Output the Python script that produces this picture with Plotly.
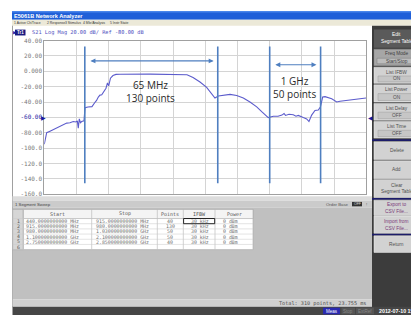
import plotly.graph_objects as go

# The page body keeps the browser's default 8px margin, so the figure is drawn
# 8px smaller and every pixel position below is measured in window pixels.
WIN_W, WIN_H = 419, 318
OFF = 8
FW, FH = WIN_W - OFF, WIN_H - OFF

# ---------------- data ----------------
point_index = [0, 2.3, 5.5, 8.7, 11.3, 13, 15.1, 18, 21.6, 24.7, 27.9, 30.5, 31.8, 32.7, 33.7,
               34.8, 36, 38.2, 39.2, 42, 45.9, 49, 50.3, 52, 53.6, 55.3, 56.5, 58.4, 59.4,
               60.8, 62, 63.7, 66.1, 69, 73, 101.8, 130.6, 137.4, 143.2, 149.9, 156.3, 161.2,
               164.3, 167.5, 172.3, 178.8, 185.2, 191.6, 198, 204.5, 209.3, 215.6, 220.5, 225,
               228.8, 230.8, 232.2, 235.6, 239.7, 242.3, 244.5, 247.1, 249.3, 252.6, 254.8,
               257.4, 260.6, 263.8, 265.9, 268, 270.3, 276.7, 281.5, 284.7, 297.5, 309.7]
s21_db = [-95, -80, -78, -76, -75, -73, -72, -70, -67.5, -67, -65.4, -66, -64.5, -74, -62,
          -67, -65.4, -64.5, -47.5, -46.5, -46, -40, -38, -33.5, -31, -30.5, -28, -25, -22,
          -15, -19, -9, -5.5, -4, -3.8, -3.6, -3.8, -4.5, -8, -14, -21, -29,
          -34.8, -32.2, -31.4, -30, -31.4, -34.8, -40, -46.3, -52.6, -60.3, -58.6, -58.5,
          -57, -55, -57.5, -56, -56.6, -58.5, -57.5, -59.5, -60.3, -62, -65.4,
          -57, -51, -50.5, -46.3, -33.5, -33, -35.7, -40, -39, -37.3, -34.8]

segment_marks = [39, 167, 217, 266]
mark_top_db = 32.4
mark_bottom_db = -146
span_start = [43, 221]
span_end = [163, 262]
span_level_db = [13.6, 8.5]
span_labels = ["65 MHz<br>130 points", "1 GHz<br>50 points"]
span_label_x = [102, 241]
span_label_db = [-26, -21.5]

y_ticks = [40, 20, 0, -20, -40, -60, -80, -100, -120, -140, -160]
y_tick_labels = ["40.00", "20.00", "0.000", "-20.00", "-40.00", "-60.00", "-80.00",
                 "-100.0", "-120.0", "-140.0", "-160.0"]
ref_level_db = -60

table_headers = ["Start", "Stop", "Points", "IFBW", "Power"]
seg_start = ["440.0000000000 MHz", "915.0000000000 MHz", "980.0000000000 MHz",
             "1.100000000000 GHz", "2.750000000000 GHz"]
seg_stop = ["915.0000000000 MHz", "980.0000000000 MHz", "1.030000000000 GHz",
            "2.100000000000 GHz", "2.850000000000 GHz"]
seg_points = ["40", "130", "50", "50", "40"]
seg_ifbw = ["30 kHz", "30 kHz", "30 kHz", "30 kHz", "30 kHz"]
seg_power = ["0 dBm", "0 dBm", "0 dBm", "0 dBm", "0 dBm"]

menu_items = ["1 Active Ch/Trace", "2 Response", "3 Stimulus", "4 Mkr/Analysis", "5 Instr State"]

# ---------------- helpers (window pixel -> paper) ----------------
shapes = []
annotations = []


def X(px):
    return (px - OFF) / FW


def Y(py):
    return 1 - (py - OFF) / FH


def rect(x0, y0, x1, y1, fill, line=None, lw=0):
    shapes.append(dict(type="rect", xref="paper", yref="paper",
                       x0=X(x0), x1=X(x1), y0=Y(y1), y1=Y(y0),
                       fillcolor=fill, line=dict(color=line or fill, width=lw),
                       layer="below"))


def hline(x0, x1, y, color, lw=1):
    shapes.append(dict(type="line", xref="paper", yref="paper",
                       x0=X(x0), x1=X(x1), y0=Y(y), y1=Y(y),
                       line=dict(color=color, width=lw), layer="below"))


def vline(x, y0, y1, color, lw=1):
    shapes.append(dict(type="line", xref="paper", yref="paper",
                       x0=X(x), x1=X(x), y0=Y(y0), y1=Y(y1),
                       line=dict(color=color, width=lw), layer="below"))


def text(x, y, s, size, color, anchor="left", family="DejaVu Sans", bold=False):
    if bold:
        s = "<b>" + s + "</b>"
    annotations.append(dict(xref="paper", yref="paper", x=X(x), y=Y(y), text=s,
                            showarrow=False, xanchor=anchor, yanchor="middle",
                            borderpad=0, font=dict(size=size, color=color, family=family)))


MONO = "DejaVu Sans Mono"
SANS = "Liberation Sans"

# ---------------- window chrome ----------------
rect(12, 7, 419, 16, "#1f5fd8")
rect(12, 7, 419, 8.5, "#4a86ea")
text(13, 11.8, "E5061B Network Analyzer", 5.6, "white", family=SANS, bold=True)
rect(12, 16, 419, 22, "#ece9d8")
menu_x = [13, 45.5, 63.5, 82, 109]
for mx, item in zip(menu_x, menu_items):
    text(mx, 19, item, 3.4, "#333333", family=SANS)
text(412.5, 19, "Re", 3.4, "#333333", family=SANS)
vline(12.5, 22, 310, "#a0a0a0", 1)

# trace header
text(12.3, 29, "▶", 4.5, "#2020a0", family="DejaVu Sans")
rect(15, 26, 25.5, 32, "#1a1a80")
text(20.2, 29, "Tr1", 4.5, "white", anchor="center", family=SANS, bold=True)
text(30.5, 29, "S21 Log Mag 20.00 dB/ Ref -80.00 dB", 5.3, "#5050c0", family=MONO)

# segment sweep bar
rect(12.5, 196.5, 372, 201, "#dcdcdc")
rect(12.5, 201, 372, 208, "#cbcbcb")
text(13.5, 204.6, "1 Segment Sweep", 4.3, "#444444", family=SANS)
text(350, 204.6, "Order Base", 4.3, "#555555", anchor="right", family=SANS)
rect(352, 202.3, 362, 206.8, "#333333")
text(357, 204.6, "OFF", 3.5, "#dddddd", anchor="center", family=SANS)
text(366, 204.6, "!", 4.3, "#555555", anchor="center", family=SANS)

# lower panel
rect(12.5, 208, 372, 302, "#c0c0c0")
rect(12.5, 302, 372, 309.5, "#d0d0d0")
text(366.5, 305.8, "Total: 310 points, 23.755 ms", 5.2, "#505050", anchor="right", family=MONO)

# table
col_edges = [12.7, 23.3, 91.7, 157.3, 183.3, 215, 253]
head_top, head_bot = 210, 219.3
row_h = 5.3
n_rows = 6
rect(col_edges[0], head_top, col_edges[-1], head_bot + n_rows * row_h, "white", "#a8a8a8", 0.6)
rect(col_edges[0], head_top, col_edges[1], head_bot + n_rows * row_h, "#d6d6d6", "#a8a8a8", 0.6)
rect(col_edges[1], head_top, col_edges[-1], head_bot, "#f4f4f4", "#a8a8a8", 0.6)
for cx in col_edges[1:-1]:
    vline(cx, head_top, head_bot + n_rows * row_h, "#b4b4b4", 0.6)
for r in range(n_rows + 1):
    hline(col_edges[0], col_edges[-1], head_bot + r * row_h, "#c8c8c8", 0.5)
for i, h in enumerate(table_headers):
    text((col_edges[i + 1] + col_edges[i + 2]) / 2, (head_top + head_bot) / 2, h, 5,
         "#555555", anchor="center", family=MONO)
for r in range(n_rows):
    yc = head_bot + (r + 0.5) * row_h
    text((col_edges[0] + col_edges[1]) / 2, yc, str(r + 1), 4.8, "#555555",
         anchor="center", family=MONO)
    if r < len(seg_start):
        text(col_edges[1] + 1.8, yc, seg_start[r], 4.9, "#707070", family=MONO)
        text(col_edges[2] + 3.2, yc, seg_stop[r], 4.9, "#707070", family=MONO)
        text((col_edges[3] + col_edges[4]) / 2, yc, seg_points[r], 4.9, "#707070",
             anchor="center", family=MONO)
        text((col_edges[4] + col_edges[5]) / 2 + 1, yc, seg_ifbw[r], 4.9, "#707070",
             anchor="center", family=MONO)
        text(col_edges[5] + 6.5, yc, seg_power[r], 4.9, "#707070", family=MONO)
shapes.append(dict(type="rect", xref="paper", yref="paper",
                   x0=X(col_edges[4] + 0.3), x1=X(col_edges[5] - 0.3),
                   y0=Y(head_bot + row_h), y1=Y(head_bot),
                   fillcolor="rgba(0,0,0,0)", line=dict(color="#111111", width=0.9),
                   layer="above"))

# softkey panel
rect(372, 22, 419, 310, "#3c3c3c")
rect(374, 26, 419, 44.5, "#5a5a5a")
text(396.5, 31.5, "Edit", 4.8, "white", anchor="center", family=SANS)
text(396.5, 38, "Segment Table", 4.8, "white", anchor="center", family=SANS)

KEY = "#d2d2d2"
KEYTXT = "#505050"
rect(374, 46, 419, 63, "#a6a6a6", "#8a8a8a", 0.5)
text(396.5, 50.5, "Freq Mode", 4.8, "#404040", anchor="center", family=SANS)
rect(377, 55.3, 416, 61, "#bcbcbc", "#7a7a7a", 0.5)
text(396.5, 58.2, "Start/Stop", 4.8, "#404040", anchor="center", family=SANS)

keys_with_value = [(64.5, 81, "List IFBW", "ON"), (82.5, 100, "List Power", "ON"),
                   (101.5, 118.7, "List Delay", "OFF"), (120, 137, "List Time", "OFF")]
for y0, y1, lab, val in keys_with_value:
    rect(374, y0, 419, y1, KEY, "#f0f0f0", 0.5)
    text(396.5, y0 + 5, lab, 4.8, KEYTXT, anchor="center", family=SANS)
    rect(378, y0 + 9, 415, y1 - 1.5, "#c6c6c6", "#9a9a9a", 0.5)
    text(396.5, (y0 + 9 + y1 - 1.5) / 2, val, 4.8, KEYTXT, anchor="center", family=SANS)
rect(372, 138.3, 419, 140, "#1c1c6a")

simple_keys = [(140.7, 159, ["Delete"]), (160.3, 178.7, ["Add"]),
               (179.5, 197.8, ["Clear", "Segment Table"])]
for y0, y1, labs in simple_keys:
    rect(374, y0, 419, y1, KEY, "#f0f0f0", 0.5)
    if len(labs) == 1:
        text(396.5, (y0 + y1) / 2, labs[0], 4.8, KEYTXT, anchor="center", family=SANS)
    else:
        text(396.5, (y0 + y1) / 2 - 3.3, labs[0], 4.8, KEYTXT, anchor="center", family=SANS)
        text(396.5, (y0 + y1) / 2 + 3.3, labs[1], 4.8, KEYTXT, anchor="center", family=SANS)
rect(372, 198.3, 419, 200, "#1c1c6a")
for y0, y1, labs in [(200.5, 216.2, ["Export to", "CSV File..."]),
                     (216.8, 234.5, ["Import from", "CSV File..."])]:
    rect(374, y0, 419, y1, KEY, "#f0f0f0", 0.5)
    text(396.5, (y0 + y1) / 2 - 3.4, labs[0], 4.8, "#7a3a7a", anchor="center", family=SANS)
    text(396.5, (y0 + y1) / 2 + 3.4, labs[1], 4.8, "#7a3a7a", anchor="center", family=SANS)
rect(372, 235, 419, 236.7, "#1c1c6a")
rect(374, 237, 419, 254, KEY, "#f0f0f0", 0.5)
text(396.5, 245.5, "Return", 4.8, KEYTXT, anchor="center", family=SANS)

# status bar
rect(12.5, 309.5, 419, 318, "#464646")
rect(323, 310.5, 340, 317.3, "#2a2ab0")
text(331.5, 314, "Meas", 4.5, "white", anchor="center", family=SANS)
rect(341.5, 310.5, 355, 317.3, "#555555")
text(348.2, 314, "Stop", 4.5, "#8a8a8a", anchor="center", family=SANS)
rect(356, 310.5, 374, 317.3, "#555555")
text(365, 314, "ExtRef", 4.5, "#8a8a8a", anchor="center", family=SANS)
text(377.5, 314, "2012-07-10 15:", 5.3, "white", family=SANS, bold=True)

# reference level markers
annotations.append(dict(xref="paper", yref="y", x=X(40), y=ref_level_db, text="▶",
                        showarrow=False, xanchor="left", yanchor="middle", borderpad=0,
                        font=dict(size=6, color="#1a1aa0", family="DejaVu Sans")))
annotations.append(dict(xref="paper", yref="y", x=X(366.8), y=ref_level_db, text="◀",
                        showarrow=False, xanchor="left", yanchor="middle", borderpad=0,
                        font=dict(size=6, color="#1a1aa0", family="DejaVu Sans")))

# ---------------- chart traces ----------------
fig = go.Figure()
fig.add_trace(go.Scatter(x=point_index, y=s21_db, mode="lines",
                         line=dict(color="#5c5ccc", width=1.1), hoverinfo="skip"))

BLUE = "#4f7fc0"
mx, my = [], []
for b in segment_marks:
    mx += [b, b, None]
    my += [mark_top_db, mark_bottom_db, None]
fig.add_trace(go.Scatter(x=mx, y=my, mode="lines", line=dict(color=BLUE, width=1.6),
                         hoverinfo="skip"))

for s, e, lv in zip(span_start, span_end, span_level_db):
    annotations.append(dict(x=e, y=lv, ax=s, ay=lv, xref="x", yref="y", axref="x", ayref="y",
                            text="", showarrow=True, arrowhead=2, arrowside="end+start",
                            arrowsize=0.9, arrowwidth=1.1, arrowcolor=BLUE))
for sx, sy, lab in zip(span_label_x, span_label_db, span_labels):
    annotations.append(dict(x=sx, y=sy, xref="x", yref="y", text=lab, showarrow=False,
                            xanchor="center", yanchor="middle",
                            font=dict(size=10, color="#2a2a2a", family="Open Sans")))

tick_text = [("<span style='color:#1a1aa0'>%s</span>" % t) if v == ref_level_db else t
             for v, t in zip(y_ticks, y_tick_labels)]

fig.update_layout(
    width=FW, height=FH,
    margin=dict(l=0, r=0, t=0, b=0),
    paper_bgcolor="white", plot_bgcolor="white",
    showlegend=False,
    shapes=shapes, annotations=annotations,
    xaxis=dict(domain=[X(44.3), X(366.3)], range=[0, 310], dtick=31, tick0=0,
               showticklabels=False, ticks="", showgrid=True, gridcolor="#d4d4d4",
               gridwidth=1, zeroline=False, showline=True, linecolor="#a0a0a0",
               linewidth=1, mirror=True, fixedrange=True),
    yaxis=dict(domain=[Y(194.3), Y(37.3)], range=[-160, 40],
               tickvals=y_ticks, ticktext=tick_text, ticks="",
               tickfont=dict(size=6, color="#7a7a7a", family=MONO),
               showgrid=True, gridcolor="#d4d4d4", gridwidth=1, zeroline=False,
               showline=True, linecolor="#a0a0a0", linewidth=1, mirror=True,
               fixedrange=True),
)

fig.write_html("out.html")
